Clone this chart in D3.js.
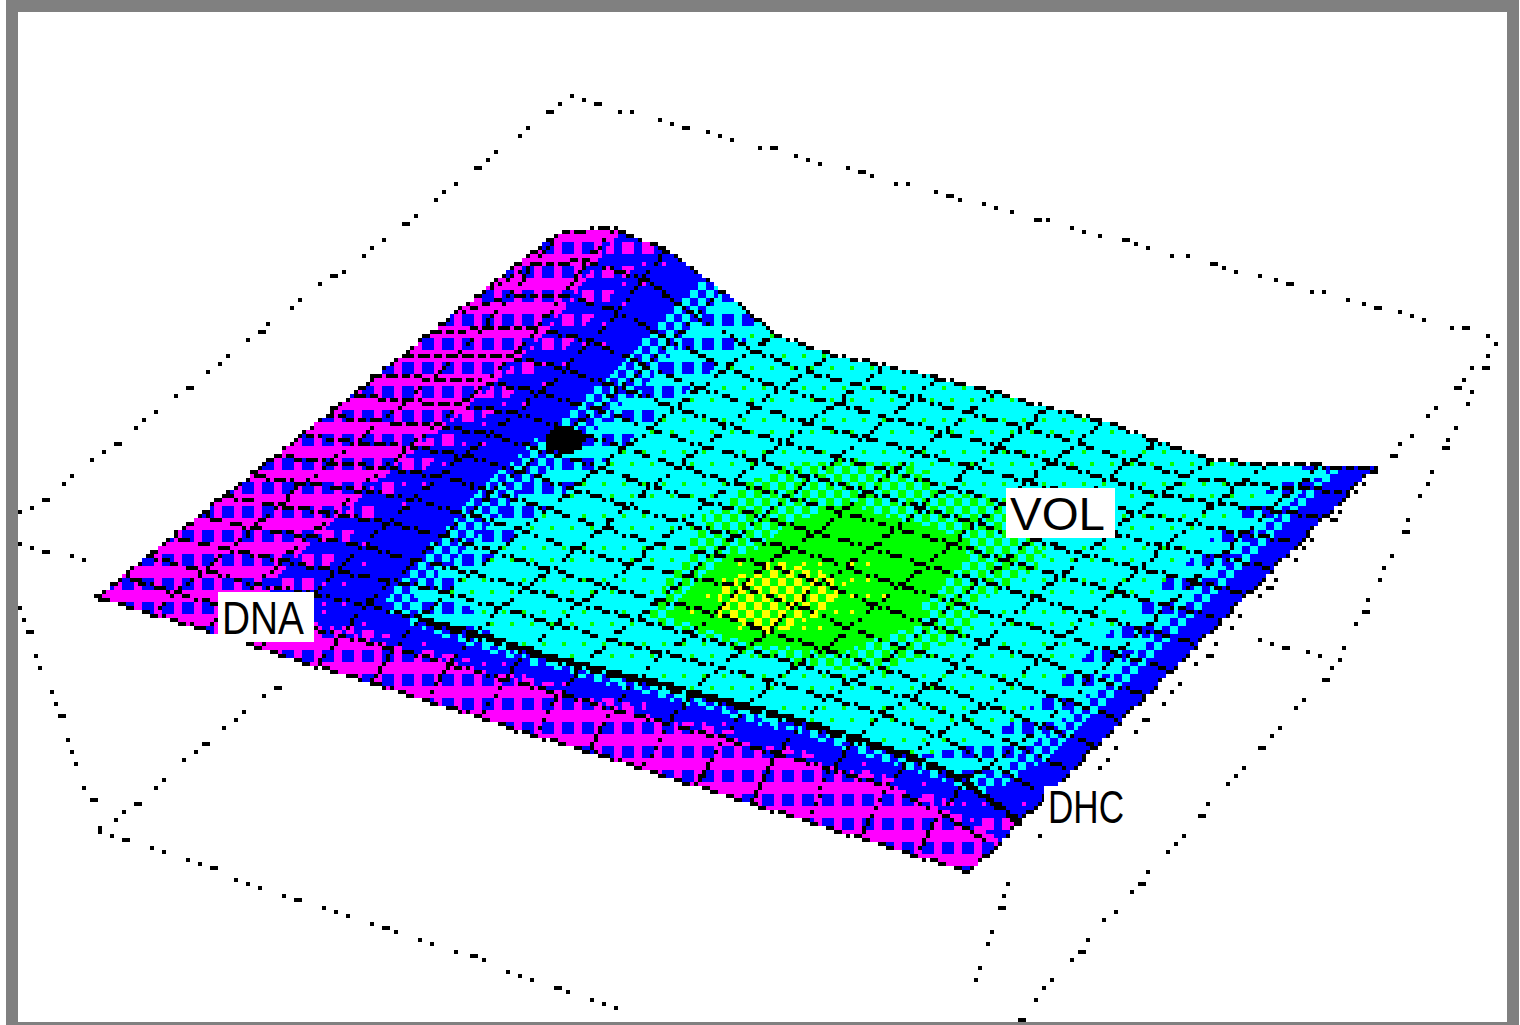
<!DOCTYPE html>
<html>
<head>
<meta charset="utf-8">
<script src="https://cdn.jsdelivr.net/npm/d3@7"></script>
<style>
  html, body { margin: 0; padding: 0; background: #fff; overflow: hidden; }
  svg { display: block; }
  text { font-family: "Liberation Sans", sans-serif; fill: #000; }
</style>
</head>
<body>
<div id="chart"></div>
<script>
// height of the sheet, back row first, one list per row, left to right
const heights = [
  [0, 54, 70, 60, 32, 0, -9, -7, -8, -10, -13, -15, -23, -29, -22, -11, 0],
  [0, 42, 58, 52, 28, 6, -3, -4, -5, -7, -10, -12, -18, -22, -16, -8, 0],
  [0, 30, 44, 42, 24, 10, 2, 0, -2, -3, -6, -8, -12, -15, -11, -5, 0],
  [0, 20, 32, 32, 20, 12, 6, 3, 1, 0, -2, -4, -7, -9, -7, -3, 0],
  [0, 14, 24, 26, 20, 14, 9, 6, 4, 3, 1, -1, -3, -5, -4, -2, 0],
  [0, 10, 20, 24, 20, 15, 11, 9, 7, 6, 4, 2, 0, -2, -2, -1, 0],
  [0, 8, 18, 24, 21, 17, 13, 11, 10, 9, 7, 5, 3, 1, 0, 0, 0],
  [0, 8, 18, 24, 22, 19, 15, 13, 13, 12, 10, 8, 6, 4, 2, 1, 0],
  [0, 8, 18, 24, 23, 20, 17, 15, 17, 19, 16, 11, 9, 6, 4, 2, 0],
  [0, 8, 18, 24, 24, 21, 18, 17, 21, 26, 23, 15, 11, 8, 6, 3, 0],
  [0, 8, 16, 22, 23, 22, 19, 18, 22, 27, 24, 16, 12, 10, 8, 4, 0],
  [0, 6, 14, 20, 22, 22, 20, 19, 21, 23, 21, 18, 16, 14, 10, 5, 0],
  [0, 4, 12, 18, 20, 23, 24, 24, 25, 26, 27, 27, 27, 26, 20, 10, 0],
  [0, 3, 8, 14, 20, 26, 26, 26, 27, 29, 32, 34, 34, 34, 30, 16, 0],
  [0, 2, 6, 12, 18, 22, 23, 23, 25, 28, 31, 34, 35, 35, 34, 26, 2],
  [0, 1, 3, 6, 9, 12, 14, 16, 18, 20, 22, 24, 26, 27, 27, 18, 1],
  [0, 0, 1, 1, 0, 1, 1, 0, 0, 1, 0, 1, 0, 0, 1, 0, 0]
];

// colour variable of the sheet, same layout as heights
const shades = [
  [0.4, 0.5, 0.8, 2.3, 5.0, 6.3, 6.5, 6.5, 6.5, 6.5, 6.5, 6.5, 6.5, 6.5, 6.6, 5.6, 2.6],
  [0.4, 0.5, 0.8, 2.4, 4.9, 6.3, 6.5, 6.5, 6.5, 6.5, 6.5, 6.5, 6.5, 6.5, 6.6, 5.6, 2.6],
  [0.4, 0.5, 0.7, 2.5, 4.8, 6.2, 6.5, 6.5, 6.5, 6.5, 6.5, 6.5, 6.5, 6.5, 6.6, 5.6, 2.6],
  [0.4, 0.5, 0.7, 2.6, 4.7, 6.2, 6.5, 6.5, 6.5, 6.5, 6.5, 6.5, 6.5, 6.5, 6.6, 5.6, 2.6],
  [0.4, 0.5, 0.7, 2.7, 4.6, 6.2, 6.5, 6.6, 7.0, 7.4, 6.8, 7.2, 6.6, 6.5, 6.6, 5.6, 2.6],
  [0.4, 0.5, 0.7, 2.8, 4.5, 6.1, 6.5, 6.8, 7.3, 7.8, 7.5, 7.6, 7.0, 6.5, 6.6, 5.6, 2.6],
  [0.4, 0.5, 0.7, 2.8, 4.5, 6.1, 6.5, 6.9, 7.5, 8.2, 8.3, 8.2, 7.5, 6.6, 6.6, 5.6, 2.6],
  [0.4, 0.5, 0.7, 2.8, 4.5, 6.1, 6.5, 6.9, 7.6, 8.5, 8.8, 8.5, 7.3, 6.6, 6.6, 5.6, 2.6],
  [0.4, 0.5, 0.7, 2.8, 4.4, 6.1, 6.5, 6.8, 7.4, 8.7, 9.4, 9.0, 7.2, 6.5, 6.6, 5.6, 2.6],
  [0.4, 0.5, 0.7, 2.8, 4.3, 6.0, 6.5, 6.7, 7.2, 10.4, 10.5, 8.9, 7.9, 6.5, 6.6, 5.6, 2.6],
  [0.4, 0.5, 0.7, 2.8, 4.2, 6.0, 6.5, 6.6, 7.2, 11.0, 11.0, 8.7, 7.4, 6.5, 6.6, 5.6, 2.6],
  [0.4, 0.5, 0.7, 2.7, 4.1, 6.0, 6.5, 6.5, 7.0, 10.2, 10.2, 8.3, 7.2, 6.5, 6.6, 5.6, 2.6],
  [0.4, 0.5, 0.7, 2.6, 4.0, 6.0, 6.5, 6.5, 6.5, 6.9, 7.1, 7.0, 6.6, 6.5, 6.6, 5.6, 2.6],
  [0.4, 0.5, 0.7, 2.3, 3.8, 6.0, 6.5, 6.5, 6.5, 6.5, 6.5, 6.5, 6.5, 6.5, 6.5, 5.4, 2.5],
  [0.5, 0.6, 0.7, 1.8, 3.4, 5.0, 5.9, 6.1, 6.1, 6.1, 6.1, 6.1, 6.1, 6.1, 6.0, 5.0, 2.2],
  [0.5, 0.5, 0.5, 0.6, 0.6, 0.6, 0.6, 0.6, 0.6, 0.6, 0.6, 0.6, 0.6, 0.6, 0.6, 0.6, 0.7],
  [0.4, 0.4, 0.4, 0.4, 0.4, 0.4, 0.4, 0.4, 0.4, 0.4, 0.4, 0.4, 0.4, 0.4, 0.4, 0.4, 0.4]
];

// dotted bounding box as [x0, y0, x1, y1]
const boxEdges = [
  [570, 97, 1495, 338],
  [570, 97, 20, 515],
  [1495, 345, 1340, 660],
  [1472, 369, 1034, 840],
  [1008, 882, 970, 992],
  [20, 545, 93, 563],
  [20, 606, 101, 832],
  [101, 832, 630, 1012],
  [116, 820, 283, 681],
  [1258, 640, 1340, 660],
  [1340, 660, 1017, 1020]
];
const dotGaps = [13, 13, 26, 13, 26, 13, 13, 26];

// the one marked sample: grid u, grid w, height
const marker = [4.24, 9.3, 30];

const labelNames = ['DNA', 'VOL', 'DHC'];
const labelBoxes = [[218, 592, 96, 50], [1006, 488, 109, 50], [1044, 786, 90, 40]];

// value bands of the sheet
const bandFloors = [0, 1, 2, 3, 4, 5, 6, 7, 8, 9, 10];
const bandBase = ['magenta', 'blue', 'blue', 'blue', 'blue', 'cyan', 'cyan', 'green', 'green', 'green', 'yellow'];
const bandAccent = ['blue', 'magenta', 'magenta', 'blue', 'cyan', 'blue', 'green', 'cyan', 'green', 'yellow', 'green'];
const bandPattern = ['block', 'block', 'spot', 'none', 'check', 'block', 'sparse', 'check', 'none', 'tiny', 'check'];

const palette = {
  magenta: '#ff00ff', blue: '#0000ff', cyan: '#00ffff',
  green: '#00ff00', yellow: '#ffff00', black: '#000000', white: '#ffffff'
};

const WIDTH = 1520;
const HEIGHT = 1025;
const CELL = 4;
const COLS = 380;
const ROWS = 256;
const LAST = heights.length - 1;
// row where the sheet folds down to its front lip, the mesh piles up there
const FOLD_ROW = 2;

// corners of the sheet's base plane on the page
const planeLeft = [97, 597];
const planeFront = [970, 873];
const planeRight = [1375, 467];
const planeBack = [505, 274];

const svg = d3.select('#chart').append('svg')
  .attr('width', WIDTH)
  .attr('height', HEIGHT);

const unit = d3.scaleLinear().domain([0, LAST]).range([0, 1]);
const lift = d3.scaleLinear().domain([0, 100]).range([0, 100]);
const colX = d3.scaleLinear().domain([0, COLS]).range([2, 2 + COLS * CELL]);
const rowY = d3.scaleLinear().domain([0, ROWS]).range([2, 2 + ROWS * CELL]);
const bandOf = d3.scaleThreshold().domain(bandFloors.slice(1)).range(d3.range(bandFloors.length));

function project(u, w, z) {
  const a = unit(u);
  const b = unit(w);
  const near = [0, 1].map(k => d3.interpolateNumber(planeLeft[k], planeFront[k])(a));
  const far = [0, 1].map(k => d3.interpolateNumber(planeBack[k], planeRight[k])(a));
  return [
    colX.invert(d3.interpolateNumber(near[0], far[0])(b)),
    rowY.invert(d3.interpolateNumber(near[1], far[1])(b) - lift(z))
  ];
}

const pixels = new Array(COLS * ROWS).fill(null);

function plot(col, row, colour) {
  if (col < 0 || row < 0 || col >= COLS || row >= ROWS) return;
  pixels[row * COLS + col] = colour;
}

function shadeColour(v, col, row) {
  const band = bandOf(v);
  let on = false;
  switch (bandPattern[band]) {
    case 'block': on = col % 5 < 3 && row % 6 < 3; break;
    case 'spot': on = col % 5 === 0 && row % 5 === 0; break;
    case 'check': on = ((col >> 1) + (row >> 1)) % 2 === 0; break;
    case 'sparse': on = (row % 8 === 0 && col % 5 === 0) || (row % 8 === 3 && col % 5 === 2); break;
    case 'tiny': on = col % 4 === 0 && row % 4 === 0; break;
  }
  return on ? bandAccent[band] : bandBase[band];
}

function fillTriangle(p0, p1, p2, v0, v1, v2) {
  const area = (p1[0] - p0[0]) * (p2[1] - p0[1]) - (p2[0] - p0[0]) * (p1[1] - p0[1]);
  if (Math.abs(area) < 1e-6) return;
  const x0 = Math.floor(d3.min([p0[0], p1[0], p2[0]]));
  const x1 = Math.ceil(d3.max([p0[0], p1[0], p2[0]]));
  const y0 = Math.floor(d3.min([p0[1], p1[1], p2[1]]));
  const y1 = Math.ceil(d3.max([p0[1], p1[1], p2[1]]));
  for (let row = y0; row <= y1; row++) {
    for (let col = x0; col <= x1; col++) {
      const px = col + 0.5;
      const py = row + 0.5;
      const a = ((p1[0] - px) * (p2[1] - py) - (p2[0] - px) * (p1[1] - py)) / area;
      const b = ((p2[0] - px) * (p0[1] - py) - (p0[0] - px) * (p2[1] - py)) / area;
      const c = 1 - a - b;
      if (a < 0 || b < 0 || c < 0) continue;
      plot(col, row, shadeColour(a * v0 + b * v1 + c * v2, col, row));
    }
  }
}

// stair-stepped mesh line with the small breaks the low-res render has
function meshLine(p0, p1, heavy) {
  const steps = Math.ceil(Math.max(Math.abs(p1[0] - p0[0]), Math.abs(p1[1] - p0[1])));
  for (let i = 0; i <= steps; i++) {
    const t = steps ? i / steps : 0;
    const col = Math.round(p0[0] + (p1[0] - p0[0]) * t - 0.5);
    const row = Math.round(p0[1] + (p1[1] - p0[1]) * t - 0.5);
    if (!heavy && (col * 3 + row * 7) % 11 < 3) continue;
    plot(col, row, 'black');
    if (heavy && col % 5 !== 0) plot(col, row + 1, 'black');
  }
}

// dotted box goes in first so the sheet covers it
boxEdges.forEach(edge => {
  const length = Math.hypot(edge[2] - edge[0], edge[3] - edge[1]);
  let along = 0;
  let i = 0;
  while (along <= length) {
    const t = along / length;
    const col = Math.floor(colX.invert(edge[0] + (edge[2] - edge[0]) * t));
    const row = Math.floor(rowY.invert(edge[1] + (edge[3] - edge[1]) * t));
    plot(col, row, 'black');
    if (i % 5 === 2) plot(col + 1, row, 'black');
    along += dotGaps[i % dotGaps.length];
    i++;
  }
});

// back row to front row, so nearer cells cover farther ones
for (let w = LAST - 1; w >= 0; w--) {
  for (let u = 0; u < LAST; u++) {
    const rowFar = LAST - (w + 1);
    const rowNear = LAST - w;
    const a = project(u, w, heights[rowNear][u]);
    const b = project(u + 1, w, heights[rowNear][u + 1]);
    const c = project(u + 1, w + 1, heights[rowFar][u + 1]);
    const d = project(u, w + 1, heights[rowFar][u]);
    const va = shades[rowNear][u];
    const vb = shades[rowNear][u + 1];
    const vc = shades[rowFar][u + 1];
    const vd = shades[rowFar][u];
    fillTriangle(a, b, c, va, vb, vc);
    fillTriangle(a, c, d, va, vc, vd);
    meshLine(a, b, false);
    meshLine(b, c, false);
    meshLine(c, d, w + 1 === FOLD_ROW && u > 4);
    meshLine(d, a, false);
  }
}

const markerAt = project(marker[0], marker[1], marker[2]);
for (let row = Math.floor(markerAt[1]) - 5; row <= markerAt[1] + 5; row++) {
  for (let col = Math.floor(markerAt[0]) - 7; col <= markerAt[0] + 7; col++) {
    const dx = (col + 0.5 - markerAt[0]) / 5;
    const dy = (row + 0.5 - markerAt[1]) / 3.4;
    if (dx * dx + dy * dy <= 1) plot(col, row, 'black');
  }
}

// collect pixels into one path per colour, row by row
const paths = new Map();
for (let row = 0; row < ROWS; row++) {
  let col = 0;
  while (col < COLS) {
    const colour = pixels[row * COLS + col];
    let end = col + 1;
    while (end < COLS && pixels[row * COLS + end] === colour) end++;
    if (colour) {
      if (!paths.has(colour)) paths.set(colour, d3.path());
      paths.get(colour).rect(colX(col), rowY(row), (end - col) * CELL, CELL);
    }
    col = end;
  }
}

svg.append('g').selectAll('path')
  .data(Array.from(paths.keys()))
  .join('path')
  .attr('d', d => paths.get(d).toString())
  .attr('fill', d => palette[d])
  .attr('shape-rendering', 'crispEdges');

const labels = svg.append('g').selectAll('g')
  .data(labelNames)
  .join('g');

labels.append('rect')
  .attr('x', (d, i) => labelBoxes[i][0])
  .attr('y', (d, i) => labelBoxes[i][1])
  .attr('width', (d, i) => labelBoxes[i][2])
  .attr('height', (d, i) => labelBoxes[i][3])
  .attr('fill', '#fff');

labels.append('text')
  .attr('x', (d, i) => labelBoxes[i][0] + 4)
  .attr('y', (d, i) => labelBoxes[i][1] + labelBoxes[i][3] / 2 + 17)
  .attr('font-size', 46)
  .attr('textLength', (d, i) => labelBoxes[i][2] - 14)
  .attr('lengthAdjust', 'spacingAndGlyphs')
  .text(d => d);

svg.append('rect')
  .attr('x', 12)
  .attr('y', 6)
  .attr('width', 1501)
  .attr('height', 1022)
  .attr('fill', 'none')
  .attr('stroke', '#808080')
  .attr('stroke-width', 12);
</script>
</body>
</html>
